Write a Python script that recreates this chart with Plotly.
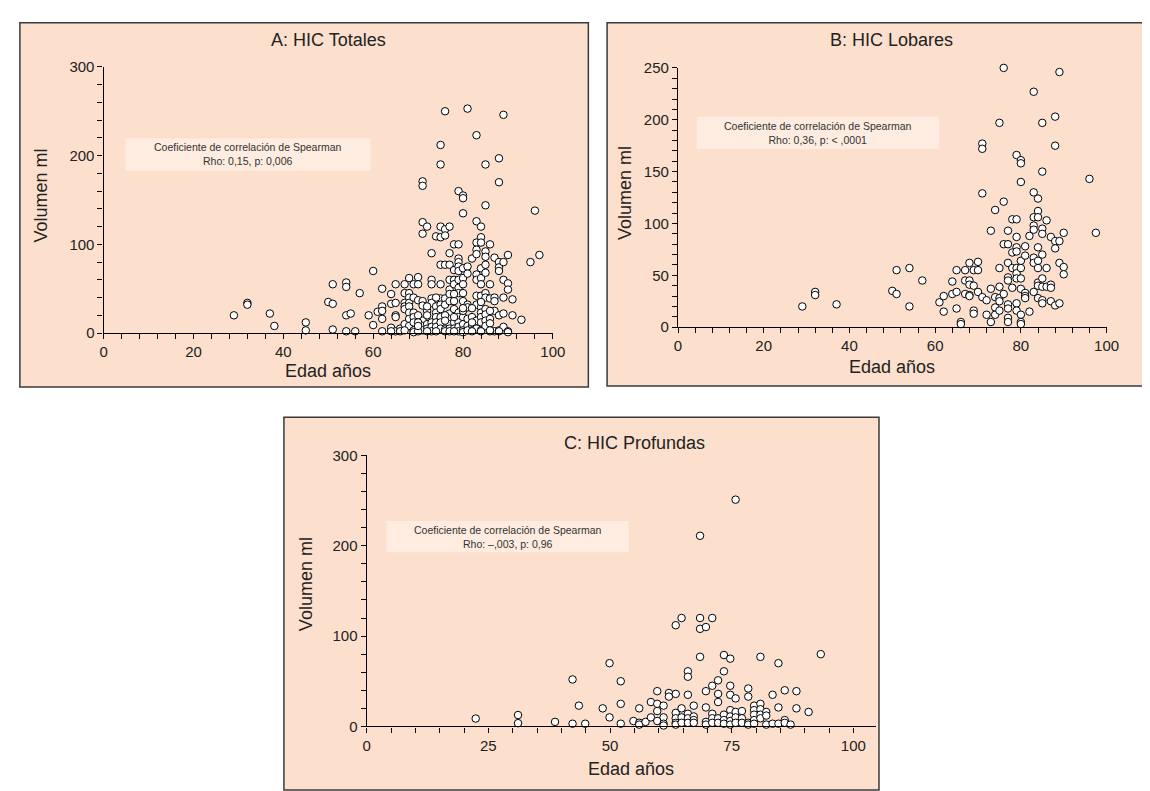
import plotly.graph_objects as go

# ---------------- DATA ----------------
# Panel A: HIC Totales (edad, volumen)
a_edad = [29, 32, 32, 37, 38, 45, 45, 50, 51, 51, 51, 54, 54, 54, 55, 54, 56, 57, 59, 60, 60, 61, 62, 62, 62, 62, 62,
          64, 64, 64, 65, 65, 65, 65, 65, 66, 67, 67, 67, 67, 67, 67, 68, 68, 68, 68, 68, 68, 68, 68, 69, 69, 69, 69, 69, 69,
          70, 70, 70, 71, 71, 71, 71, 72, 71, 71, 71, 71, 71, 72, 72, 72, 72, 73, 73, 73, 73, 73, 73, 73, 73,
          74, 74, 74, 74, 74, 74, 75, 75, 75, 75, 75, 75, 75, 75, 75, 75, 75, 75, 76, 76, 76, 76, 76, 76, 76,
          77, 77, 77, 77, 77, 77, 77, 77, 77, 77, 77, 78, 78, 78, 78, 78, 78, 78, 78,
          79, 79, 79, 79, 79, 79, 79, 79, 79, 79, 79, 79, 79, 79, 80, 80, 80, 80, 80, 80, 80, 80, 80, 80, 80,
          81, 81, 81, 81, 81, 81, 81, 82, 82, 82, 82, 83, 83, 83, 83, 83, 83, 83, 83, 83, 83, 83,
          84, 84, 84, 84, 84, 84, 84, 84, 84, 84, 84, 84, 85, 85, 85, 85, 85, 85, 85, 85, 85, 85, 85, 85,
          86, 86, 86, 86, 86, 87, 87, 87, 87, 87, 88, 88, 88, 88, 88, 88, 88, 89, 89, 89, 89, 89, 89,
          90, 90, 90, 90, 91, 91, 93, 95, 96, 97,
          64, 66, 67, 69, 70, 72, 74, 76, 77, 78, 80, 81, 82, 84, 86, 86, 88, 90, 70, 70, 70, 72, 74, 76, 76, 78,
          80, 82, 82, 84, 86, 78, 80]
a_vol = [20, 34, 32, 22, 8, 12, 3, 35, 33, 55, 4, 57, 52, 20, 22, 2, 2, 45, 20, 70, 9, 24, 50, 30, 25, 16, 2,
         44, 33, 6, 55, 34, 20, 18, 2, 5, 55, 45, 34, 30, 27, 10, 62, 45, 40, 34, 30, 23, 16, 8, 55, 40, 23, 18, 12, 3,
         63, 55, 37, 171, 166, 125, 112, 120, 36, 31, 14, 8, 3, 25, 20, 10, 5, 90, 60, 55, 39, 34, 12, 7, 2,
         109, 30, 23, 18, 12, 7, 212, 190, 120, 108, 77, 55, 39, 32, 27, 18, 12, 5, 250, 117, 110, 77, 39, 32, 4,
         120, 90, 77, 60, 49, 44, 36, 22, 16, 10, 5, 100, 71, 60, 55, 36, 27, 12, 5,
         160, 100, 84, 80, 75, 70, 60, 51, 45, 23, 18, 12, 7, 2, 155, 152, 135, 73, 62, 55, 45, 36, 18, 10, 3,
         253, 75, 67, 32, 29, 16, 8, 84, 18, 8, 3, 223, 126, 102, 94, 89, 66, 60, 42, 32, 14, 5,
         120, 108, 102, 73, 62, 55, 42, 29, 23, 18, 12, 3, 190, 144, 92, 86, 77, 68, 45, 40, 27, 21, 14, 8,
         100, 55, 39, 16, 11, 85, 40, 36, 25, 2, 197, 170, 80, 74, 70, 20, 3, 246, 80, 60, 40, 22, 7,
         88, 56, 49, 2, 38, 20, 15, 80, 138, 88,
         2, 2, 3, 1, 2, 2, 2, 2, 2, 2, 1, 3, 2, 2, 2, 3, 2, 1, 20, 12, 8, 30, 40, 20, 14, 18,
         25, 12, 28, 35, 25, 44, 28]

# Panel B: HIC Lobares
b_edad = [29, 32, 32, 37, 50, 51, 51, 54, 54, 57, 61, 62, 62, 64, 64, 65, 65, 65, 66, 66, 67, 67, 67,
          68, 68, 68, 68, 68, 69, 69, 69, 69, 70, 70, 70, 71, 71, 71, 71, 72, 72, 73, 73, 73,
          74, 74, 74, 74, 75, 75, 75, 75, 75, 75, 76, 76, 76, 76, 77, 77, 77, 77, 77, 77, 77, 77, 77,
          78, 78, 78, 78, 79, 79, 79, 79, 79, 79, 79, 79, 79, 79, 80, 80, 80, 80, 80, 80, 80, 80, 80, 80,
          81, 81, 81, 81, 81, 82, 82, 83, 83, 83, 83, 83, 83, 83, 83, 84, 84, 84, 84, 84, 84, 84, 84, 84,
          85, 85, 85, 85, 85, 85, 85, 85, 85, 86, 86, 86, 87, 87, 87, 87, 88, 88, 88, 88, 88,
          89, 89, 89, 89, 90, 90, 90, 96, 97.5]
b_vol = [20, 34, 31, 22, 35, 55, 32, 57, 20, 45, 24, 30, 15, 44, 32, 55, 34, 18, 5, 3, 55, 45, 32,
         62, 45, 41, 31, 30, 55, 40, 16, 13, 63, 55, 34, 177, 172, 129, 29, 26, 12, 93, 37, 5,
         113, 29, 19, 12, 197, 57, 39, 28, 25, 16, 250, 121, 80, 32, 93, 80, 62, 48, 45, 22, 18, 9, 5,
         104, 72, 57, 38, 166, 104, 87, 77, 73, 57, 52, 47, 23, 16, 161, 158, 140, 64, 57, 47, 37, 12, 5, 3,
         78, 69, 33, 30, 28, 88, 15, 227, 130, 106, 98, 94, 67, 62, 34, 124, 112, 106, 77, 64, 57, 43, 40, 28,
         197, 150, 95, 90, 70, 47, 39, 26, 23, 103, 57, 39, 87, 41, 38, 25, 203, 175, 83, 76, 21,
         246, 83, 62, 23, 91, 58, 51, 143, 91]

# Panel C: HIC Profundas
c_edad = [22.4, 31.1, 31.1, 38.7, 42.3, 42.3, 43.6, 44.9, 48.5, 49.9, 49.9, 52.2, 52.2, 52.2, 54.8, 56, 56, 56,
          57.3, 58.4, 58.4, 59.7, 59.7, 59.7, 59.7, 61, 61, 61, 61, 62.1, 62.1,
          63.5, 63.5, 63.5, 63.5, 63.5, 63.5, 64.7, 64.7, 64.7, 64.7, 66, 66, 66, 66, 66, 66,
          67.2, 67.2, 67.2, 67.2, 68.5, 68.5, 68.5, 68.5, 69.7, 69.7, 69.7, 69.7, 69.7,
          71, 71, 71, 71, 71, 72.2, 72.2, 72.2, 72.2, 72.2, 73.4, 73.4, 73.4, 73.4, 73.4,
          74.7, 74.7, 74.7, 74.7, 74.7, 74.7, 74.7, 75.8, 75.8, 75.8, 75.8, 75.8, 77.1, 77.1, 77.1,
          78.4, 78.4, 78.4, 78.4, 79.6, 79.6, 79.6, 79.6, 79.6, 80.9, 80.9, 80.9, 80.9, 80.9,
          82.1, 82.1, 82.1, 83.4, 83.4, 84.6, 84.6, 84.6, 85.9, 85.9, 85.9, 87.1, 88.3, 88.3, 90.8, 93.3]
c_vol = [8.7, 12.6, 3.6, 5, 52, 3, 23, 3, 20, 70, 10, 50, 25, 3, 6, 20, 4, 2,
         5, 27, 10, 39, 25, 17, 6, 23, 10, 3, 1, 37, 33,
         112, 36, 15, 9, 4, 2, 120, 20, 10, 4, 61, 55, 35, 14, 9, 4,
         23, 11, 7, 4, 120, 108, 211, 77, 110, 39, 21, 5, 2,
         120, 45, 14, 9, 4, 51, 36, 27, 9, 4, 79, 61, 13, 7, 3,
         75, 45, 35, 18, 11, 6, 2, 251, 31, 16, 10, 4, 17, 9, 4,
         42, 33, 4, 2, 23, 18, 13, 7, 3, 77, 25, 19, 13, 9,
         16, 12, 2, 35, 3, 70, 21, 3, 40, 7, 4, 2, 39, 20, 16, 80]

titles = ["A: HIC Totales", "B: HIC Lobares", "C: HIC Profundas"]
stats = ["Coeficiente de correlación de Spearman<br>Rho: 0,15, p: 0,006",
         "Coeficiente de correlación de Spearman<br>Rho: 0,36, p: < ,0001",
         "Coeficiente de correlación de Spearman<br>Rho: \u2013,003, p: 0,96"]
x_label = "Edad años"
y_label = "Volumen ml"

# ---------------- LAYOUT (pixel geometry) ----------------
W, H = 1150, 791
FONT = "Liberation Sans, Arial, Helvetica, sans-serif"
BG = "#FCE0CD"
BOX = "#FDECDF"
INK = "#222222"


def px(x):
    return x / W


def py(y):
    return 1 - y / H


fig = go.Figure()

panels = [
    dict(xa=93, xb=549, xmax=100, ya=323, yb=51, ymax=300, ydt=100, ymn=20, xmn=4, xdt=20,
         box=(8, 6, 585, 378), sbox=(115, 124, 364, 157), tpos=(321, 24), xt=(321, 362), yt=(30, 183)),
    dict(xa=676, xb=1111, xmax=100, ya=317, yb=52, ymax=250, ydt=50, ymn=10, xmn=4, xdt=20,
         box=(604, 6, 1148, 377), sbox=(695, 102, 941, 135), tpos=(893, 24), xt=(893, 358), yt=(622, 180)),
    dict(xa=360, xb=854, xmax=104.6, ya=725, yb=448, ymax=300, ydt=100, ymn=20, xmn=5, xdt=25,
         box=(276, 409, 880, 790), sbox=(380, 515, 626, 547), tpos=(632, 435), xt=(628, 769), yt=(298, 580)),
]
data = [(a_edad, a_vol), (b_edad, b_vol), (c_edad, c_vol)]

shapes = []
annotations = []
for i, (p, (xs, ys)) in enumerate(zip(panels, data), start=1):
    suffix = "" if i == 1 else str(i)
    x_end = p["xa"] + (p["xb"] - p["xa"]) * p["xmax"] / 100.0
    fig.add_trace(go.Scatter(
        x=xs, y=ys, mode="markers", xaxis="x" + suffix, yaxis="y" + suffix,
        marker=dict(symbol="circle", size=7.5, color="white", line=dict(color="black", width=1)),
        cliponaxis=False, showlegend=False, hoverinfo="x+y"))
    axis_common = dict(showgrid=False, zeroline=False, showline=True, linecolor="black", linewidth=1.3,
                       ticks="outside", ticklen=5, tickwidth=1.2, tickcolor="black",
                       tickfont=dict(family=FONT, size=15, color=INK))
    fig.layout["xaxis" + suffix] = dict(
        axis_common, domain=[px(p["xa"]), px(x_end)], range=[0, p["xmax"]],
        tickmode="array", tickvals=list(range(0, 101, p["xdt"])),
        minor=dict(ticks="outside", dtick=p["xmn"], tick0=0, ticklen=5, tickcolor="black", tickwidth=1.2),
        anchor="y" + suffix)
    fig.layout["yaxis" + suffix] = dict(
        axis_common, domain=[py(p["ya"]), py(p["yb"])], range=[0, p["ymax"]],
        dtick=p["ydt"], tick0=0,
        minor=dict(ticks="outside", dtick=p["ymn"], tick0=0, ticklen=5, tickcolor="black", tickwidth=1.2),
        anchor="x" + suffix)
    bx0, by0, bx1, by1 = p["box"]
    shapes.append(dict(type="rect", xref="paper", yref="paper", x0=px(bx0), x1=px(bx1), y0=py(by1), y1=py(by0),
                       fillcolor=BG, line=dict(color="#3a3a3a", width=1.5), layer="below"))
    sx0, sy0, sx1, sy1 = p["sbox"]
    shapes.append(dict(type="rect", xref="paper", yref="paper", x0=px(sx0), x1=px(sx1), y0=py(sy1), y1=py(sy0),
                       fillcolor=BOX, line=dict(width=0), layer="below"))
    annotations.append(dict(xref="paper", yref="paper", x=px((sx0 + sx1) / 2), y=py((sy0 + sy1) / 2),
                            text=stats[i - 1], showarrow=False, xanchor="center", yanchor="middle",
                            font=dict(family=FONT, size=10.5, color="#333333"), align="center"))
    annotations.append(dict(xref="paper", yref="paper", x=px(p["tpos"][0]), y=py(p["tpos"][1]),
                            text=titles[i - 1], showarrow=False, xanchor="center", yanchor="middle",
                            font=dict(family=FONT, size=18, color=INK)))
    annotations.append(dict(xref="paper", yref="paper", x=px(p["xt"][0]), y=py(p["xt"][1]),
                            text=x_label, showarrow=False, xanchor="center", yanchor="middle",
                            font=dict(family=FONT, size=18, color=INK)))
    annotations.append(dict(xref="paper", yref="paper", x=px(p["yt"][0]), y=py(p["yt"][1]),
                            text=y_label, showarrow=False, xanchor="center", yanchor="middle", textangle=-90,
                            font=dict(family=FONT, size=18, color=INK)))

fig.update_layout(width=W, height=H, margin=dict(l=0, r=0, t=0, b=0),
                  paper_bgcolor="white", plot_bgcolor="rgba(0,0,0,0)",
                  shapes=shapes, annotations=annotations, showlegend=False)

fig.write_html("out.html")
